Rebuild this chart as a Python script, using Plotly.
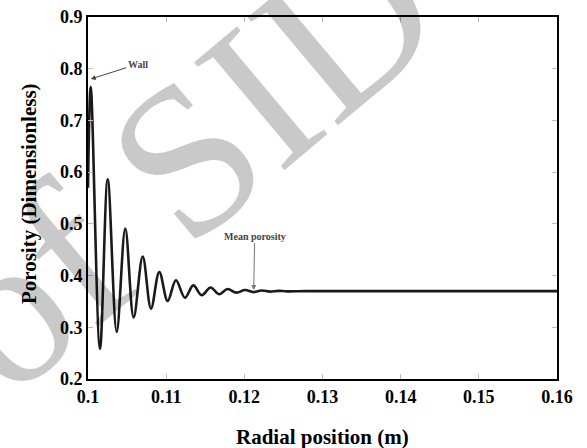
import plotly.graph_objects as go

# Radial position (m) and porosity (extrema of the damped oscillation)
radial_position = [0.1000, 0.10035, 0.10153, 0.10252, 0.10367, 0.10477, 0.10584, 0.10700,
                   0.10806, 0.10912, 0.11019, 0.11125, 0.11240, 0.11347, 0.11454, 0.11569,
                   0.11675, 0.11786, 0.11897, 0.12008, 0.12115, 0.12222, 0.12328, 0.12437,
                   0.12545, 0.1280, 0.1350, 0.1450, 0.1550, 0.1600]
porosity = [0.57, 0.765, 0.258, 0.586, 0.291, 0.491, 0.319, 0.437,
            0.336, 0.407, 0.351, 0.391, 0.357, 0.381, 0.362, 0.377,
            0.364, 0.374, 0.367, 0.372, 0.368, 0.371, 0.369, 0.3705,
            0.3695, 0.370, 0.370, 0.370, 0.370, 0.370]

x_ticks = [0.10, 0.11, 0.12, 0.13, 0.14, 0.15, 0.16]
x_tick_labels = ["0.1", "0.11", "0.12", "0.13", "0.14", "0.15", "0.16"]
y_ticks = [0.2, 0.3, 0.4, 0.5, 0.6, 0.7, 0.8, 0.9]
y_tick_labels = ["0.2", "0.3", "0.4", "0.5", "0.6", "0.7", "0.8", "0.9"]

x_title = "Radial position (m)"
y_title = "Porosity (Dimensionless)"

SERIF = "Liberation Serif, Times New Roman, serif"

fig = go.Figure()
fig.add_trace(go.Scatter(
    x=radial_position, y=porosity, mode="lines",
    line=dict(color="#1a1a1a", width=2.6, shape="spline", smoothing=1.0),
    showlegend=False, hoverinfo="skip"))

axis_common = dict(
    showline=True, linecolor="black", linewidth=2, mirror="ticks",
    ticks="inside", ticklen=5, tickcolor="#bbbbbb", tickwidth=1,
    showgrid=False, zeroline=False, automargin=False,
    tickfont=dict(family=SERIF, size=18, color="black", weight="bold"),
)

fig.update_xaxes(range=[0.1, 0.16], tickvals=x_ticks, ticktext=x_tick_labels, **axis_common)
fig.update_yaxes(range=[0.2, 0.9], tickvals=y_ticks, ticktext=y_tick_labels, **axis_common)

annotations = [
    # axis titles
    dict(x=0.5, y=-0.160, xref="paper", yref="paper", text="<b>" + x_title + "</b>",
         showarrow=False, xanchor="center", yanchor="middle",
         font=dict(family=SERIF, size=21, color="black")),
    dict(x=-0.127, y=0.512, xref="paper", yref="paper", text="<b>" + y_title + "</b>",
         showarrow=False, xanchor="center", yanchor="middle", textangle=-90,
         font=dict(family=SERIF, size=21, color="black")),
    # callouts
    dict(x=0.10035, y=0.780, xref="x", yref="y", text="<b>Wall</b>",
         showarrow=True, arrowhead=2, arrowsize=1, arrowwidth=1, arrowcolor="#444",
         ax=47, ay=-15, font=dict(family=SERIF, size=10, color="#444")),
    dict(x=0.1212, y=0.372, xref="x", yref="y", text="<b>Mean porosity</b>",
         showarrow=True, arrowhead=2, arrowsize=1, arrowwidth=1, arrowcolor="#777",
         ax=1, ay=-54, font=dict(family=SERIF, size=10, color="#444")),
    # watermark
    dict(x=(183 - 88) / 469, y=(379 - 160) / 362, xref="paper", yref="paper",
         text="of SID", showarrow=False, textangle=-40,
         font=dict(family=SERIF, size=215, color="rgba(0,0,0,0.21)"),
         xanchor="center", yanchor="middle"),
]

fig.update_layout(
    width=587, height=448,
    margin=dict(l=88, r=30, t=17, b=69),
    paper_bgcolor="white", plot_bgcolor="white",
    annotations=annotations,
)

fig.write_html("out.html", config={"displayModeBar": False},
               post_script="document.body.style.margin='0';")
